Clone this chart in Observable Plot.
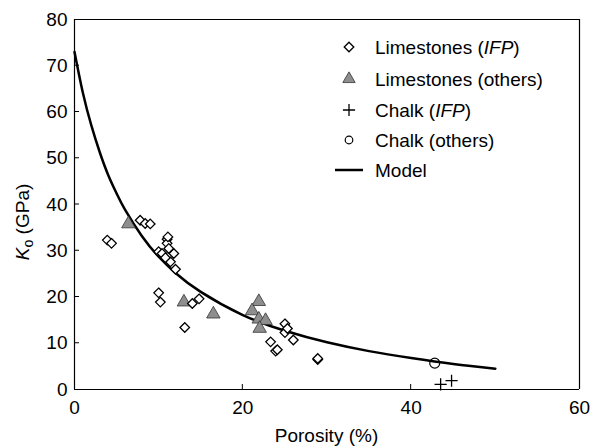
<!DOCTYPE html>
<html><head><meta charset="utf-8">
<script src="https://cdn.jsdelivr.net/npm/d3@7"></script>
<script src="https://cdn.jsdelivr.net/npm/@observablehq/plot@0.6"></script>
<style>
body{margin:0;background:#fff;}
#wrap{width:593px;height:447px;}
</style></head><body><div id="wrap"></div>
<script>
// Limestones (IFP) — open diamonds
const limIfpPhi = [3.9, 4.4, 7.8, 8.4, 9.0, 10.0, 10.4, 11.0, 11.0, 11.1, 11.4, 11.8, 12.0, 10.8, 11.2, 10.0, 10.2, 14.0, 14.8, 13.1, 25.0, 25.0, 25.3, 26.0, 23.3, 23.9, 24.1, 28.9, 28.9];
const limIfpK   = [32.3, 31.6, 36.6, 35.9, 35.8, 29.8, 29.4, 32.5, 31.6, 33.0, 27.6, 29.4, 26.0, 28.5, 30.5, 20.9, 18.9, 18.6, 19.6, 13.4, 14.2, 12.3, 13.2, 10.7, 10.3, 8.3, 8.6, 6.5, 6.7];
// Limestones (others) — grey triangles
const limOthPhi = [6.4, 13.0, 16.5, 21.9, 21.1, 21.9, 22.7, 22.0];
const limOthK   = [35.8, 18.9, 16.3, 19.0, 17.0, 15.2, 14.9, 13.2];
// Chalk (IFP) — plus
const chalkIfpPhi = [43.5, 44.8];
const chalkIfpK   = [1.1, 1.9];
// Chalk (others) — open circle
const chalkOthPhi = [42.8];
const chalkOthK   = [5.7];
// Model curve
const modelPhi = [0, 1, 2, 3, 4, 5, 6, 8, 10, 12, 15, 20, 25, 30, 35, 40, 45, 50];
const modelK   = [73, 64.1, 57.1, 51.3, 46.4, 42.4, 38.9, 33.2, 28.7, 25.2, 21.1, 16.1, 12.7, 10.2, 8.3, 6.8, 5.5, 4.5];
// Axis ticks
const xTicks = [0, 20, 40, 60];
const yTicks = [0, 10, 20, 30, 40, 50, 60, 70, 80];
const legendLabels = ["Limestones (", "Limestones (others)", "Chalk (", "Chalk (others)", "Model"];

const zip = (a, b) => a.map((v, i) => ({x: v, y: b[i]}));
const limIfp = zip(limIfpPhi, limIfpK);
const limOth = zip(limOthPhi, limOthK);
const chalkIfp = zip(chalkIfpPhi, chalkIfpK);
const chalkOth = zip(chalkOthPhi, chalkOthK);
const model = zip(modelPhi, modelK);

const FONT = "'Liberation Sans', Arial, sans-serif";
const FS = 19;

const chart = Plot.plot({
  width: 593, height: 447,
  marginLeft: 74, marginRight: 14, marginTop: 19, marginBottom: 58,
  style: {fontFamily: FONT, fontSize: FS + "px", color: "#000", background: "#fff"},
  x: {domain: [0, 60], label: null},
  y: {domain: [0, 80], label: null},
  marks: [
    Plot.axisX({ticks: xTicks, tickSize: 0, tickPadding: 11, label: null, fill: "#000"}),
    Plot.axisY({ticks: yTicks, tickSize: 0, tickPadding: 7, label: null, fill: "#000"}),
    Plot.line(model, {x: "x", y: "y", curve: "natural", stroke: "#000", strokeWidth: 2.5}),
    Plot.dot(limOth, {x: "x", y: "y", symbol: "triangle", r: 5, fill: "#8e8e8e", stroke: "#333", strokeWidth: 0.8}),
    Plot.dot(limIfp, {x: "x", y: "y", symbol: "diamond2", r: 4.3, fill: "#fff", stroke: "#000", strokeWidth: 1.3}),
    Plot.dot(chalkIfp, {x: "x", y: "y", symbol: "plus", r: 4, stroke: "#000", strokeWidth: 1.3}),
    Plot.dot(chalkOth, {x: "x", y: "y", symbol: "circle", r: 5, fill: "none", stroke: "#000", strokeWidth: 1.2}),
    Plot.ruleX([0, 60], {stroke: "#000", strokeWidth: 1.2}),
    Plot.ruleY([0, 80], {stroke: "#000", strokeWidth: 1.2})
  ]
});

document.getElementById("wrap").appendChild(chart);
const svg = d3.select(chart);
const xs = chart.scale("x"), ys = chart.scale("y");
const X = v => xs.apply(v), Y = v => ys.apply(v);

// Inward tick marks
const tk = svg.append("g").attr("stroke", "#000").attr("stroke-width", 1);
xTicks.slice(1, -1).forEach(v => tk.append("line").attr("x1", X(v)).attr("x2", X(v)).attr("y1", Y(0)).attr("y2", Y(0) - 5));
yTicks.slice(1, -1).forEach(v => tk.append("line").attr("x1", X(0)).attr("x2", X(0) + 5).attr("y1", Y(v)).attr("y2", Y(v)));

// Axis titles
svg.append("text")
  .attr("x", (xs.range[0] + xs.range[1]) / 2).attr("y", 442)
  .attr("text-anchor", "middle").attr("font-family", FONT).attr("font-size", FS).attr("fill", "#000")
  .text("Porosity (%)");
const yl = svg.append("text")
  .attr("transform", "translate(29,222) rotate(-90)")
  .attr("text-anchor", "middle").attr("font-family", FONT).attr("font-size", FS).attr("fill", "#000");
yl.append("tspan").attr("font-style", "italic").text("K");
yl.append("tspan").attr("font-size", FS * 0.75).attr("dy", 4).text("o");
yl.append("tspan").attr("dy", -4).text(" (GPa)");

// Legend
const lg = svg.append("g").attr("font-family", FONT).attr("font-size", FS).attr("fill", "#000").attr("text-anchor", "start");
const rowsY = [47, 79, 110, 140, 170];
const symX = 349, txtX = 375;
const sym = (type, r) => d3.symbol(type, Math.PI * r * r)();
lg.append("path").attr("transform", `translate(${symX},${rowsY[0]})`).attr("d", sym(d3.symbolDiamond2, 4.3)).attr("fill", "#fff").attr("stroke", "#000").attr("stroke-width", 1.3);
lg.append("path").attr("transform", `translate(${symX},${rowsY[1]})`).attr("d", sym(d3.symbolTriangle, 4.6)).attr("fill", "#8e8e8e").attr("stroke", "#333").attr("stroke-width", 0.8);
lg.append("path").attr("transform", `translate(${symX},${rowsY[2]})`).attr("d", sym(d3.symbolPlus, 4)).attr("fill", "none").attr("stroke", "#000").attr("stroke-width", 1.3);
lg.append("circle").attr("cx", symX).attr("cy", rowsY[3]).attr("r", 3.8).attr("fill", "none").attr("stroke", "#000").attr("stroke-width", 1.2);
lg.append("line").attr("x1", 335).attr("x2", 363).attr("y1", rowsY[4]).attr("y2", rowsY[4]).attr("stroke", "#000").attr("stroke-width", 2.5);
const addText = (i, parts) => {
  const t = lg.append("text").attr("x", txtX).attr("y", rowsY[i]).attr("dy", "0.35em");
  parts.forEach(([s, it]) => t.append("tspan").attr("font-style", it ? "italic" : null).text(s));
};
addText(0, [[legendLabels[0], false], ["IFP", true], [")", false]]);
addText(1, [[legendLabels[1], false]]);
addText(2, [[legendLabels[2], false], ["IFP", true], [")", false]]);
addText(3, [[legendLabels[3], false]]);
addText(4, [[legendLabels[4], false]]);
</script>
</body></html>
